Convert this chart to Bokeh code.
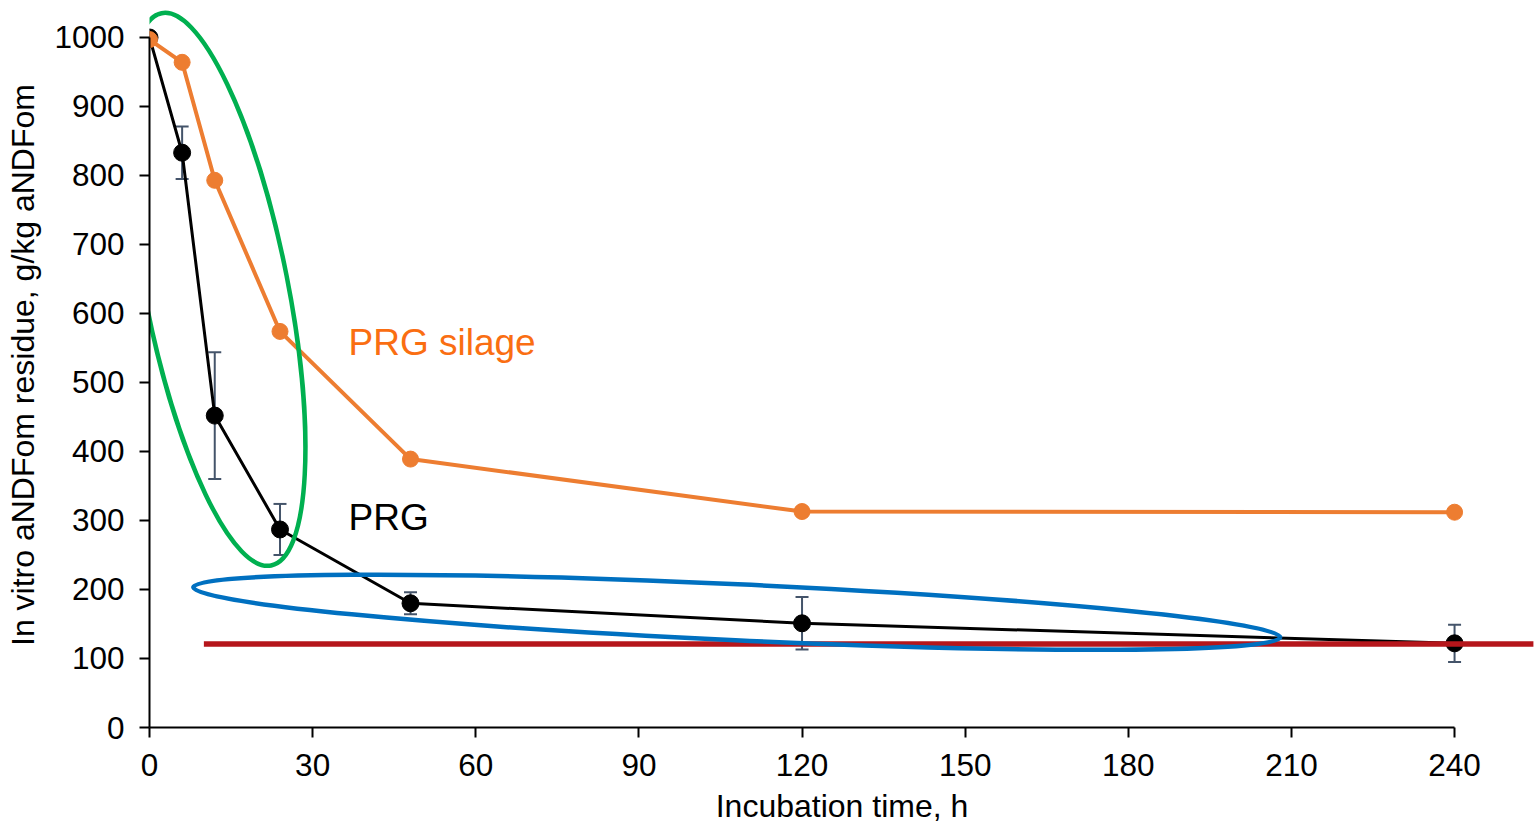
from bokeh.plotting import figure
from bokeh.models import Range1d, FixedTicker, ColumnDataSource, Whisker, TeeHead
from bokeh.embed import file_html
from bokeh.resources import INLINE
from bokeh.core.properties import value

# ---- data ----
hours = [0, 6, 12, 24, 48, 120, 240]
prg = [1000, 833, 452, 287, 180, 151, 122]
prg_err = [0, 38, 92, 37, 16, 38, 27]
prg_silage = [997, 964, 793, 574, 389, 313, 312]

x_ticks = [0, 30, 60, 90, 120, 150, 180, 210, 240]
y_ticks = [0, 100, 200, 300, 400, 500, 600, 700, 800, 900, 1000]

# asymptote line (red) and annotation shapes
asym_x = [10, 254.5]
asym_y = [121, 121]
green_center = (12.3, 635)
blue_center = (108, 167)

labels_text = ["PRG silage", "PRG"]
labels_x = [36.6, 36.6]
labels_y = [558, 304]

FONT = "Liberation Sans"

p = figure(width=1534, height=828, output_backend="svg", toolbar_location=None,
           x_range=Range1d(0, 254.7), y_range=Range1d(0, 1050.7),
           min_border_left=149, min_border_right=0, min_border_top=2,
           min_border_bottom=101)
p.outline_line_color = None
p.xgrid.grid_line_color = None
p.ygrid.grid_line_color = None
p.background_fill_color = "white"

for ax in (p.xaxis[0], p.yaxis[0]):
    ax.axis_line_color = "black"
    ax.axis_line_width = 2
    ax.major_tick_line_color = "black"
    ax.major_tick_line_width = 2
    ax.major_tick_out = 10
    ax.major_tick_in = 0
    ax.minor_tick_line_color = None
    ax.major_label_text_font = FONT
    ax.major_label_text_font_size = "31.5px"
    ax.major_label_text_color = "black"
    ax.axis_label_text_font = FONT
    ax.axis_label_text_font_size = "32px"
    ax.axis_label_text_font_style = "normal"
    ax.axis_label_text_color = "black"

p.xaxis.ticker = FixedTicker(ticks=x_ticks)
p.yaxis.ticker = FixedTicker(ticks=y_ticks)
p.xaxis.bounds = (0, 240)
p.yaxis.bounds = (0, 1000)
p.xaxis.axis_label = "Incubation time, h"
p.yaxis.axis_label = "In vitro aNDFom residue, g/kg aNDFom"
p.xaxis.major_label_standoff = 16
p.yaxis.major_label_standoff = 15
p.xaxis.axis_label_standoff = 9
p.yaxis.axis_label_standoff = 10

# PRG series with error bars
src = ColumnDataSource(dict(
    x=hours, y=prg,
    upper=[v + e for v, e in zip(prg, prg_err)],
    lower=[v - e for v, e in zip(prg, prg_err)],
))
p.line("x", "y", source=src, line_color="black", line_width=3)
w = Whisker(base="x", upper="upper", lower="lower", source=src,
            line_color="#44546A", line_width=2,
            upper_head=TeeHead(size=13, line_color="#44546A", line_width=2),
            lower_head=TeeHead(size=13, line_color="#44546A", line_width=2))
p.add_layout(w)
p.scatter("x", "y", source=src, size=17, fill_color="black", line_color="black")

# PRG silage series
p.line(hours, prg_silage, line_color="#ED7D31", line_width=4)
p.scatter(hours, prg_silage, size=16, fill_color="#ED7D31", line_color="#ED7D31")

# shapes
p.line(asym_x, asym_y, line_color="#B5161B", line_width=5.5)
p.ellipse(x=[green_center[0]], y=[green_center[1]], width=143, height=563,
          angle=0.196, width_units="screen", height_units="screen",
          fill_color=None, line_color="#00B050", line_width=4.5)
p.ellipse(x=[blue_center[0]], y=[blue_center[1]], width=1088, height=56,
          angle=-0.046, width_units="screen", height_units="screen",
          fill_color=None, line_color="#0070C0", line_width=4.5)

# labels
p.text(x=labels_x[:1], y=labels_y[:1], text=labels_text[:1], text_font=value(FONT),
       text_font_size="37px", text_color="#FA6E12", text_align="left",
       text_baseline="middle")
p.text(x=labels_x[1:], y=labels_y[1:], text=labels_text[1:], text_font=value(FONT),
       text_font_size="37px", text_color="black", text_align="left",
       text_baseline="middle")

open("out.html", "w").write(file_html(p, INLINE))
